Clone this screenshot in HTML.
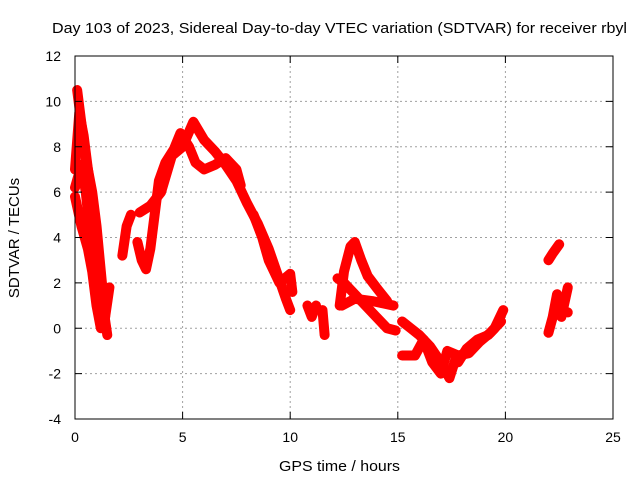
<!DOCTYPE html>
<html><head><meta charset="utf-8"><style>
body{margin:0;background:#fff}
svg{display:block;font-family:"Liberation Sans",sans-serif}
</style></head><body>
<svg id="chart" width="640" height="480" viewBox="0 0 640 480">
<rect width="640" height="480" fill="#fff"/>
<text x="52" y="33" font-size="15" textLength="575" lengthAdjust="spacingAndGlyphs">Day 103 of 2023, Sidereal Day-to-day VTEC variation (SDTVAR) for receiver rbyl</text>
<text x="279" y="471" font-size="15" textLength="121" lengthAdjust="spacingAndGlyphs">GPS time / hours</text>
<text transform="translate(19,238) rotate(-90)" font-size="15" text-anchor="middle">SDTVAR / TECUs</text>
<g id="grid"></g><g id="marks"></g><g id="axes"></g>
</svg>
<script>
const xTicks=[0,5,10,15,20,25];
const yTicks=[-4,-2,0,2,4,6,8,10,12];
const trackA=[[0,5.8],[0.3,4.5],[0.6,3.5],[0.8,2.5],[1.0,1.0],[1.2,0],[1.4,0.5],[1.6,1.8]];
const trackB=[[0,7],[0.2,9.5],[0.4,8.5],[0.6,7],[0.9,5],[1.1,3],[1.3,1],[1.5,-0.3]];
const trackC=[[0.1,10.5],[0.3,9],[0.5,7.5],[0.8,6],[1.0,4.5],[1.2,2.5],[1.4,0.5]];
const trackC2=[[0.0,6.2],[0.3,7.2],[0.5,6.0],[0.7,4.2],[0.9,2.8],[1.1,1.5],[1.3,0.2]];
const trackD=[[2.2,3.2],[2.4,4.5],[2.6,5.0]];
const trackE=[[2.9,3.8],[3.1,3.0],[3.3,2.6],[3.5,3.5],[3.7,5],[3.9,6.5],[4.2,7.3],[4.6,7.9],[4.9,8.6],[5.3,8.0],[5.6,7.3],[6.0,7.0],[6.5,7.2],[7.0,7.5],[7.5,7.0],[7.7,6.3]];
const trackF=[[3.0,5.1],[3.5,5.4],[4.0,6.0],[4.5,7.6],[5.0,8.0],[5.5,9.1],[6.0,8.3],[6.5,7.8],[7.0,7.2],[7.5,6.5],[8.0,5.5],[8.5,4.6],[9.0,3.5],[9.4,2.4],[9.8,1.3],[10.0,0.8]];
const trackG=[[8.3,5.0],[8.7,4.0],[9.0,3.0],[9.5,2.0],[10.0,2.4],[10.1,1.6]];
const trackH=[[10.8,1.0],[11.0,0.5],[11.2,1.0]];
const trackH2=[[11.5,0.8],[11.6,-0.3]];
const trackI=[[12.3,1.0],[12.5,2.5],[12.8,3.6],[13.0,3.8],[13.3,3.0],[13.6,2.3],[14.0,1.8],[14.5,1.2]];
const trackJ=[[12.2,2.2],[12.5,2.0],[13.0,1.5],[13.5,1.0],[14.0,0.5],[14.5,0.0],[14.9,-0.1]];
const trackJ2=[[12.4,1.0],[13.0,1.3],[13.8,1.2],[14.8,1.0]];
const trackK=[[15.2,0.3],[15.6,0],[16.0,-0.3],[16.5,-0.8],[17.0,-1.5],[17.4,-2.2],[17.7,-1.3]];
const trackL=[[15.2,-1.2],[15.8,-1.2],[16.2,-0.5],[16.6,-1.5],[17.0,-2.0],[17.3,-1.0],[17.8,-1.2],[18.3,-1.1],[18.8,-0.6],[19.3,-0.2],[19.8,0.3]];
const trackM=[[17.8,-1.5],[18.2,-0.9],[18.7,-0.5],[19.2,-0.3],[19.5,0],[19.9,0.8]];
const trackN=[[22.0,-0.2],[22.2,0.5],[22.4,1.5],[22.6,0.5],[22.9,1.8]];
const trackO=[[22.0,3.0],[22.2,3.3],[22.5,3.7]];
const trackP=[[22.5,0.8],[22.9,0.7]];
const tracks=[trackA,trackB,trackC,trackC2,trackD,trackE,trackF,trackG,trackH,trackH2,trackI,trackJ,trackJ2,trackK,trackL,trackM,trackN,trackO,trackP];

const L=75,R=613,T=56,B=419,xMin=0,xMax=25,yMin=-4,yMax=12;
const xs=v=>L+(v-xMin)/(xMax-xMin)*(R-L);
const ys=v=>B-(v-yMin)/(yMax-yMin)*(B-T);
const NS='http://www.w3.org/2000/svg';
function mk(tag,attrs,parent){const e=document.createElementNS(NS,tag);for(const k in attrs)e.setAttribute(k,attrs[k]);parent.appendChild(e);return e;}
const grid=document.getElementById('grid'),marks=document.getElementById('marks'),axes=document.getElementById('axes');
xTicks.forEach(t=>{
  const x=xs(t);
  if(t>xMin&&t<xMax){const g=mk('line',{x1:x,x2:x,y1:T,y2:B,stroke:'#a0a0a0','stroke-dasharray':'2,3'},grid);
  
  }
  const a=mk('path',{d:`M${x},${B}v-7M${x},${T}v7`,stroke:'#000'},axes);
  
  
  const l=mk('text',{x:x,y:B+23,'font-size':14,'text-anchor':'middle'},axes);l.textContent=t;
  
  
});
yTicks.forEach(t=>{
  const y=ys(t);
  if(t>yMin&&t<yMax){const g=mk('line',{x1:L,x2:R,y1:y,y2:y,stroke:'#a0a0a0','stroke-dasharray':'2,3'},grid);
  
  }
  const a=mk('path',{d:`M${L},${y}h7M${R},${y}h-7`,stroke:'#000'},axes);
  
  
  const l=mk('text',{x:L-14,y:y+5,'font-size':14,'text-anchor':'end'},axes);l.textContent=t;
  
  
});
const fr=mk('rect',{x:L,y:T,width:R-L,height:B-T,fill:'none',stroke:'#000'},axes);


tracks.forEach(tr=>{
  const p=mk('polyline',{points:tr.map(d=>xs(d[0])+','+ys(d[1])).join(' '),fill:'none',stroke:'#f00','stroke-width':10,'stroke-linejoin':'round','stroke-linecap':'round'},marks);
  
  
  tr.forEach(d=>{
    const m=mk('path',{d:`M${xs(d[0])-4},${ys(d[1])}h8M${xs(d[0])},${ys(d[1])-4}v8`,stroke:'#f00','stroke-width':1.5},marks);
    
    
  });
});
</script>
</body></html>
